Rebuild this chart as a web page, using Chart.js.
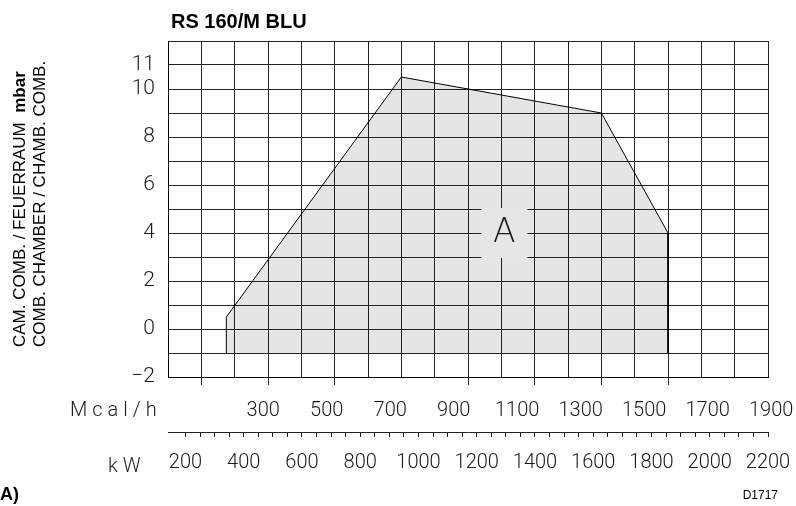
<!DOCTYPE html>
<html>
<head>
<meta charset="utf-8">
<script src="https://cdn.jsdelivr.net/npm/chart.js@4.4.1/dist/chart.umd.min.js"></script>
<style>
  html, body { margin: 0; padding: 0; background: #fff; }
  #wrap { width: 796px; height: 506px; }
</style>
</head>
<body>
<div id="wrap"><canvas id="grafico" width="796" height="506"></canvas></div>
<script>
// campo di lavoro RS 160/M BLU (Mcal/h, mbar)
const portataMcal = [275, 275, 800, 1400, 1600, 1600];
const pressioneMbar = [-1, 0.5, 10.5, 9, 4, -1];

// griglia e scale
const grigliaMcal = [100, 200, 300, 400, 500, 600, 700, 800, 900, 1000, 1100, 1200, 1300, 1400, 1500, 1600, 1700, 1800, 1900];
const tacchePlot = [200, 400, 600, 1000, 1200, 1400, 1600];
const grigliaMbar = [-2, -1, 0, 1, 2, 3, 4, 5, 6, 7, 8, 9, 10, 11, 12];
const etichetteMbar = [-2, 0, 2, 4, 6, 8, 10, 11];
const etichetteMcal = [300, 500, 700, 900, 1100, 1300, 1500, 1700, 1900];
const etichetteKw = [200, 400, 600, 800, 1000, 1200, 1400, 1600, 1800, 2000, 2200];
const campoA = [1100, 4];

const sottile = { family: 'Roboto', size: 20, weight: 300 };
const nero = '#1a1a1a';

const decorazioni = {
    id: 'decorazioni',
    afterDatasetsDraw(chart) {
        const { ctx, scales } = chart;
        const x = scales.x.getPixelForValue(campoA[0]) + 3;
        const y = scales.y.getPixelForValue(campoA[1]);
        ctx.save();
        ctx.fillStyle = '#e6e6e6';
        ctx.fillRect(x - 23, y - 25, 46, 50);
        ctx.fillStyle = nero;
        ctx.font = '200 33px "DejaVu Sans"';
        ctx.textAlign = 'center';
        ctx.textBaseline = 'middle';
        ctx.fillText('A', x, y);
        ctx.restore();
    },
    afterDraw(chart) {
        const { ctx } = chart;
        ctx.save();
        ctx.fillStyle = '#000';
        ctx.textBaseline = 'alphabetic';
        ctx.font = 'bold 20px "Liberation Sans"';
        ctx.fillText('RS 160/M BLU', 171, 28);

        // titoli asse y, ruotati
        ctx.save();
        ctx.translate(0, 347);
        ctx.rotate(-Math.PI / 2);
        ctx.textBaseline = 'middle';
        ctx.font = '17px "Liberation Sans"';
        const riga1 = 'CAM. COMB. / FEUERRAUM  ';
        ctx.fillText(riga1, 0, 20);
        const w = ctx.measureText(riga1).width;
        ctx.font = 'bold 17px "Liberation Sans"';
        ctx.fillText('mbar', w, 20);
        ctx.font = '17px "Liberation Sans"';
        ctx.fillText('COMB. CHAMBER / CHAMB. COMB.', 0, 40);
        ctx.restore();

        ctx.fillStyle = nero;
        ctx.font = '300 20px Roboto';
        ctx.textBaseline = 'middle';
        ctx.letterSpacing = '5px';
        ctx.fillText('Mcal/h', 70, 411);
        ctx.letterSpacing = '5px';
        ctx.fillText('kW', 108, 467);
        ctx.letterSpacing = '0px';

        ctx.fillStyle = '#000';
        ctx.textBaseline = 'alphabetic';
        ctx.font = 'bold 18px "Liberation Sans"';
        ctx.fillText('A)', 0, 500);
        ctx.font = '12px "Liberation Sans"';
        ctx.textAlign = 'right';
        ctx.fillText('D1717', 778, 499);
        ctx.restore();
    }
};

const senzaPadding = s => { s.paddingLeft = 0; s.paddingRight = 0; };

new Chart(document.getElementById('grafico'), {
    type: 'line',
    data: {
        datasets: [{
            data: portataMcal.map((v, i) => ({ x: v, y: pressioneMbar[i] })),
            borderColor: '#000',
            borderWidth: 1,
            backgroundColor: 'rgba(0,0,0,0.1)',
            fill: { value: -1 },
            pointRadius: 0,
            tension: 0
        }]
    },
    options: {
        responsive: false,
        animation: false,
        layout: { padding: { left: 60, right: 28, top: 41, bottom: 24 } },
        plugins: { legend: { display: false }, tooltip: { enabled: false }, title: { display: false } },
        scales: {
            x: {
                type: 'linear', position: 'bottom', weight: 0, min: 100, max: 1900,
                afterBuildTicks: s => { s.ticks = grigliaMcal.map(v => ({ value: v })); },
                ticks: { display: false },
                grid: {
                    color: '#222', lineWidth: 1, drawTicks: true, tickLength: 8,
                    tickColor: c => (c.tick && tacchePlot.includes(c.tick.value)) ? '#222' : 'rgba(0,0,0,0)'
                },
                border: { color: '#000', width: 1 },
                afterFit: s => { s.height = 10; senzaPadding(s); }
            },
            mcal: {
                type: 'linear', position: 'bottom', weight: 1, min: 0, max: 1890,
                afterBuildTicks: s => { s.ticks = etichetteMcal.map(v => ({ value: v })); },
                ticks: { font: sottile, color: nero, padding: 12, autoSkip: false, maxRotation: 0, callback: v => String(v) },
                grid: { display: false, drawTicks: false },
                border: { display: false },
                afterFit: s => { s.height = 45; senzaPadding(s); }
            },
            kw: {
                type: 'linear', position: 'bottom', weight: 2, min: 140, max: 2200,
                afterBuildTicks: s => { s.ticks = s.ticks.filter(t => t.value % 50 === 0); },
                ticks: {
                    stepSize: 50, font: sottile, color: nero, padding: 14, autoSkip: false, maxRotation: 0,
                    callback: v => etichetteKw.includes(v) ? String(v) : ''
                },
                grid: { drawOnChartArea: false, drawTicks: true, tickLength: 5, tickColor: '#222' },
                border: { display: true, color: '#222', width: 1 },
                afterFit: s => { s.height = 50; senzaPadding(s); }
            },
            y: {
                type: 'linear', min: -2, max: 12,
                afterBuildTicks: s => { s.ticks = grigliaMbar.map(v => ({ value: v })); },
                ticks: {
                    font: { family: 'Roboto', size: 21, weight: 300 }, color: nero, padding: 13,
                    autoSkip: false,
                    callback: v => etichetteMbar.includes(v) ? (v < 0 ? '\u2212' + Math.abs(v) : String(v)) : ''
                },
                grid: { color: '#222', lineWidth: 1, drawTicks: false },
                border: { color: '#000', width: 1 },
                afterFit: s => { s.width = 108; }
            }
        }
    },
    plugins: [decorazioni]
});
</script>
</body>
</html>
